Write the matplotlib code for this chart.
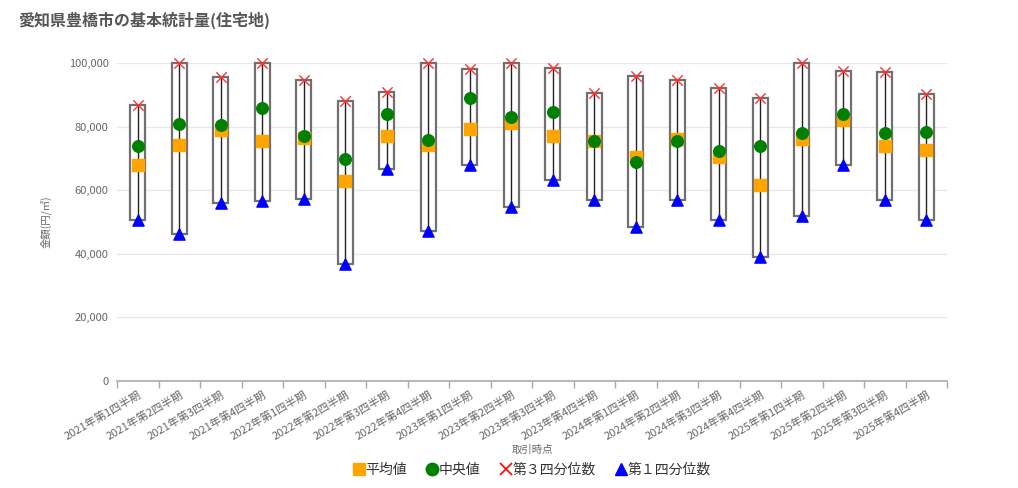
import matplotlib
matplotlib.use("Agg")
import matplotlib.pyplot as plt
from matplotlib.ticker import FuncFormatter, FixedLocator
from matplotlib.lines import Line2D
import numpy as np

plt.rcParams['font.family'] = ['Noto Sans CJK JP', 'DejaVu Sans']

categories = [
    "2021年第1四半期", "2021年第2四半期", "2021年第3四半期", "2021年第4四半期",
    "2022年第1四半期", "2022年第2四半期", "2022年第3四半期", "2022年第4四半期",
    "2023年第1四半期", "2023年第2四半期", "2023年第3四半期", "2023年第4四半期",
    "2024年第1四半期", "2024年第2四半期", "2024年第3四半期", "2024年第4四半期",
    "2025年第1四半期", "2025年第2四半期", "2025年第3四半期", "2025年第4四半期",
]
mean_vals = [67800, 74300, 78900, 75600, 76400, 62900, 76900, 74100, 79200, 81000,
             77100, 75500, 70500, 76100, 70400, 61600, 76000, 82200, 74000, 72500]
median_vals = [73900, 80900, 80400, 86000, 76900, 69900, 84100, 75900, 89000, 83000,
               84600, 75400, 68900, 75500, 72400, 73900, 77900, 84000, 77900, 78400]
q3_vals = [86900, 100000, 95700, 100000, 94700, 88100, 91000, 100000, 98000, 100000,
           98500, 90500, 96000, 94800, 92000, 89100, 100000, 97600, 97100, 90300]
q1_vals = [50700, 46100, 56100, 56700, 57200, 36800, 66700, 47300, 67800, 54800,
           63100, 57000, 48500, 57000, 50700, 38900, 51800, 67800, 56800, 50700]

W, H = 1018, 488
fig = plt.figure(figsize=(W / 100, H / 100), dpi=100)
left, right, bottom, top = 117 / W, 947 / W, 1 - 381 / H, 1 - 63 / H
ax = fig.add_axes([left, bottom, right - left, top - bottom])

n = len(categories)
x = np.arange(n)
ax.set_xlim(-0.5, n - 0.5)
ax.set_ylim(0, 100000)

# boxes
box_w = 15 / (830 / n)
for i in range(n):
    ax.add_patch(plt.Rectangle((x[i] - box_w / 2, q1_vals[i]), box_w, q3_vals[i] - q1_vals[i],
                               facecolor='white', edgecolor='#707070', linewidth=1.6, zorder=2,
                               clip_on=False))
    ax.plot([x[i], x[i]], [q1_vals[i], q3_vals[i]], color='#222222', linewidth=1.0, zorder=3,
            clip_on=False)

ax.scatter(x, mean_vals, marker='s', s=65, color='#FFA500', zorder=4, clip_on=False)
ax.scatter(x, median_vals, marker='o', s=70, color='#008000', zorder=5, clip_on=False)
ax.scatter(x, q3_vals, marker='x', s=55, color='#FF3030', linewidths=1.0, zorder=6, clip_on=False)
ax.scatter(x, q1_vals, marker='^', s=65, color='#0000FF', zorder=6, clip_on=False)

# grid
ax.set_yticks([0, 20000, 40000, 60000, 80000, 100000])
ax.yaxis.set_major_formatter(FuncFormatter(lambda v, p: f"{int(v):,}"))
ax.grid(axis='y', color='#e6e6ee', linewidth=0.9, zorder=0)
ax.set_axisbelow(True)

for s in ['top', 'right', 'left']:
    ax.spines[s].set_visible(False)
ax.spines['bottom'].set_color('#aaaaaa')
ax.spines['bottom'].set_linewidth(1.2)

ax.tick_params(axis='y', length=0, labelsize=8, labelcolor='#666666', pad=6)
ax.set_xticks(x)
ax.set_xticklabels(categories, rotation=30, ha='right', rotation_mode='anchor',
                   fontsize=8, color='#666666')
ax.tick_params(axis='x', which='major', length=0, pad=6)
ax.xaxis.set_minor_locator(FixedLocator(np.arange(-0.5, n, 1.0)))
ax.tick_params(axis='x', which='minor', length=5, color='#aaaaaa', width=1)

ax.set_ylabel("金額(円/㎡)", fontsize=7.5, color='#666666', labelpad=12)
ax.set_xlabel("取引時点", fontsize=7.5, color='#666666', labelpad=2)

fig.text(18 / W, 1 - 20 / H, "愛知県豊橋市の基本統計量(住宅地)", fontsize=11.5,
         fontweight='bold', color='#555555', va='center', ha='left')

handles = [
    Line2D([], [], marker='s', linestyle='none', color='#FFA500', markersize=8),
    Line2D([], [], marker='o', linestyle='none', color='#008000', markersize=9),
    Line2D([], [], marker='x', linestyle='none', color='#FF0000', markersize=8, markeredgewidth=1.2),
    Line2D([], [], marker='^', linestyle='none', color='#0000FF', markersize=9),
]
labels = ["平均値", "中央値", "第３四分位数", "第１四分位数"]
fig.legend(handles, labels, loc='center', bbox_to_anchor=(532 / W, 1 - 470 / H), ncol=4,
           frameon=False, fontsize=10, handlelength=0.8, handletextpad=0.1,
           columnspacing=1.4, labelcolor='#333333')

fig.savefig("out.png", dpi=100)
